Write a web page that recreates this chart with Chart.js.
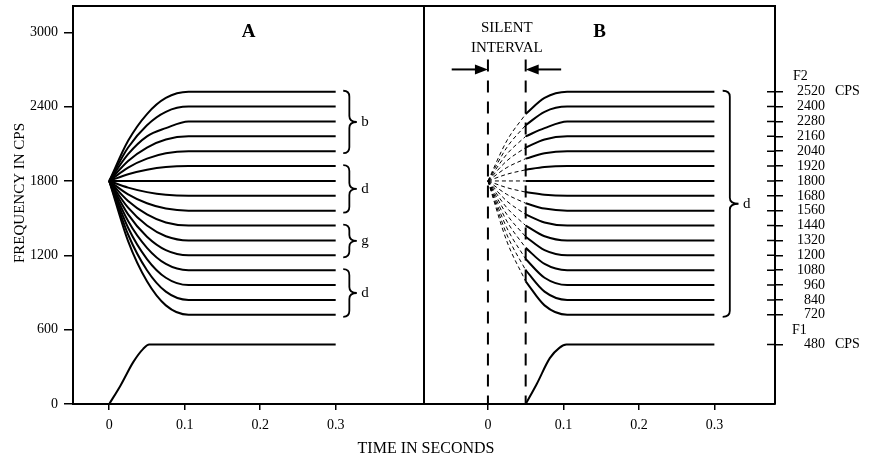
<!DOCTYPE html>
<html>
<head>
<meta charset="utf-8">
<script src="https://cdn.jsdelivr.net/npm/chart.js@4/dist/chart.umd.min.js"></script>
<style>
  html, body { margin: 0; padding: 0; background: #fff; }
  canvas { display: block; }
</style>
</head>
<body>
<canvas id="c" width="870" height="461"></canvas>
<script>
// ---------- data ----------
const timeTickValues = [0, 0.1, 0.2, 0.3];
const timeTickLabels = ['0', '0.1', '0.2', '0.3'];
const freqTickValues = [0, 600, 1200, 1800, 2400, 3000];
const freqTickLabels = ['0', '600', '1200', '1800', '2400', '3000'];

const f2StartHz = 1800;
const f2Targets = [2520, 2400, 2280, 2160, 2040, 1920, 1800, 1680, 1560, 1440, 1320, 1200, 1080, 960, 840, 720];
const f2At025 = [2124, 2070, 2016, 1962, 1908, 1854, 1800, 1746, 1692, 1638, 1584, 1530, 1476, 1422, 1368, 1314];
const f2At050 = [2340, 2250, 2160, 2070, 1980, 1890, 1800, 1710, 1620, 1530, 1440, 1350, 1260, 1170, 1080, 990];
const f2At075 = [2470, 2358, 2226, 2135, 2023, 1912, 1800, 1688, 1577, 1465, 1354, 1242, 1130, 1019, 907, 796];
const f2Times = [0, 0.025, 0.05, 0.075, 0.105, 0.3];

const f1TimesA = [0, 0.015, 0.032, 0.045, 0.053, 0.3];
const f1ValuesA = [0, 150, 340, 445, 480, 480];
const f1TimesB = [0.05, 0.0645, 0.082, 0.095, 0.104, 0.3];
const f1ValuesB = [0, 160, 370, 455, 480, 480];

const silentStart = 0;
const silentEnd = 0.05;
const silentTopHz = 2780;

const rightTickValues = [2520, 2400, 2280, 2160, 2040, 1920, 1800, 1680, 1560, 1440, 1320, 1200, 1080, 960, 840, 720, 480];
const rightTickLabels = ['2520', '2400', '2280', '2160', '2040', '1920', '1800', '1680', '1560', '1440', '1320', '1200', '1080', '960', '840', '720', '480'];

const braceTopsA = [2520, 1920, 1440, 1080];
const braceBottomsA = [2040, 1560, 1200, 720];
const braceLabelsA = ['b', 'd', 'g', 'd'];
const braceTopsB = [2520];
const braceBottomsB = [720];
const braceLabelsB = ['d'];

// ---------- datasets ----------
const FONT = "'Liberation Serif', 'DejaVu Serif', serif";
const datasets = [];
function pts(times, vals) { return times.map((t, i) => ({ x: t, y: vals[i] })); }

f2Targets.forEach((target, i) => {
  const vals = [f2StartHz, f2At025[i], f2At050[i], f2At075[i], target, target];
  datasets.push({ xAxisID: 'xA', yAxisID: 'y', data: pts(f2Times, vals),
    borderColor: '#000', borderWidth: 2, pointRadius: 0, cubicInterpolationMode: 'monotone' });
  datasets.push({ xAxisID: 'xB', yAxisID: 'y', data: pts(f2Times.slice(0, 3), vals.slice(0, 3)),
    borderColor: '#000', borderWidth: 1, borderDash: [4, 3], pointRadius: 0, cubicInterpolationMode: 'monotone' });
  datasets.push({ xAxisID: 'xB', yAxisID: 'y', data: pts(f2Times.slice(2), vals.slice(2)),
    borderColor: '#000', borderWidth: 2, pointRadius: 0, cubicInterpolationMode: 'monotone' });
});
datasets.push({ xAxisID: 'xA', yAxisID: 'y', data: pts(f1TimesA, f1ValuesA),
  borderColor: '#000', borderWidth: 2, pointRadius: 0, cubicInterpolationMode: 'monotone' });
datasets.push({ xAxisID: 'xB', yAxisID: 'y', data: pts(f1TimesB, f1ValuesB),
  borderColor: '#000', borderWidth: 2, pointRadius: 0, cubicInterpolationMode: 'monotone' });
[silentStart, silentEnd].forEach(t => {
  datasets.push({ xAxisID: 'xB', yAxisID: 'y', data: [{ x: t, y: silentTopHz }, { x: t, y: 0 }],
    borderColor: '#000', borderWidth: 2, borderDash: [12, 9], pointRadius: 0 });
});

// ---------- annotations plugin ----------
function drawBrace(ctx, xEnd, xTip, yTop, yBot) {
  const xm = xEnd + (xTip - xEnd) * 0.45;
  const ym = (yTop + yBot) / 2;
  const r = Math.min(6, (yBot - yTop) / 4);
  ctx.beginPath();
  ctx.moveTo(xEnd, yTop);
  ctx.quadraticCurveTo(xm, yTop, xm, yTop + r);
  ctx.lineTo(xm, ym - r);
  ctx.quadraticCurveTo(xm, ym, xTip, ym);
  ctx.quadraticCurveTo(xm, ym, xm, ym + r);
  ctx.lineTo(xm, yBot - r);
  ctx.quadraticCurveTo(xm, yBot, xEnd, yBot);
  ctx.stroke();
}
function drawArrow(ctx, x0, xTip, y) {
  const dir = Math.sign(xTip - x0);
  ctx.beginPath(); ctx.moveTo(x0, y); ctx.lineTo(xTip - dir * 6, y); ctx.stroke();
  ctx.beginPath(); ctx.moveTo(xTip, y); ctx.lineTo(xTip - dir * 13, y - 5); ctx.lineTo(xTip - dir * 13, y + 5); ctx.closePath(); ctx.fill();
}

const annot = {
  id: 'annot',
  afterDraw(chart) {
    const { ctx, chartArea: ca } = chart;
    const { xA, xB, y, yR } = chart.scales;
    ctx.save();
    ctx.strokeStyle = '#000'; ctx.fillStyle = '#000';
    ctx.lineWidth = 2;
    ctx.beginPath();
    ctx.moveTo(ca.left - 1, ca.top); ctx.lineTo(ca.right + 1, ca.top);
    ctx.moveTo(xA.right, ca.top); ctx.lineTo(xA.right, ca.bottom);
    ctx.stroke();
    ctx.lineWidth = 1.5;
    ctx.beginPath();
    rightTickValues.forEach(v => { const py = yR.getPixelForValue(v); ctx.moveTo(ca.right - 8, py); ctx.lineTo(ca.right, py); });
    ctx.stroke();
    ctx.font = '14px ' + FONT; ctx.textBaseline = 'middle'; ctx.textAlign = 'left';
    ctx.fillText('F2', yR.left + 18, yR.getPixelForValue(2520) - 15);
    ctx.fillText('F1', yR.left + 17, yR.getPixelForValue(480) - 14);
    ctx.fillText('CPS', yR.right + 10, yR.getPixelForValue(2520));
    ctx.fillText('CPS', yR.right + 10, yR.getPixelForValue(480));
    ctx.font = 'bold 19px ' + FONT; ctx.textAlign = 'center';
    ctx.fillText('A', (xA.left + xA.right) / 2, y.getPixelForValue(3000));
    ctx.fillText('B', (xB.left + xB.right) / 2, y.getPixelForValue(3000));
    ctx.lineWidth = 1.8;
    ctx.font = '15px ' + FONT; ctx.textAlign = 'left';
    braceTopsA.forEach((top, i) => {
      const yt = y.getPixelForValue(top) - 1, yb = y.getPixelForValue(braceBottomsA[i]) + 2;
      drawBrace(ctx, xA.getPixelForValue(0.31), xA.getPixelForValue(0.328), yt, yb);
      ctx.fillText(braceLabelsA[i], xA.getPixelForValue(0.334), (yt + yb) / 2);
    });
    braceTopsB.forEach((top, i) => {
      const yt = y.getPixelForValue(top) - 1, yb = y.getPixelForValue(braceBottomsB[i]) + 2;
      drawBrace(ctx, xB.getPixelForValue(0.311), xB.getPixelForValue(0.332), yt, yb);
      ctx.fillText(braceLabelsB[i], xB.getPixelForValue(0.338), (yt + yb) / 2);
    });
    ctx.font = '15px ' + FONT; ctx.textAlign = 'center';
    const xMid = xB.getPixelForValue((silentStart + silentEnd) / 2);
    ctx.fillText('SILENT', xMid, y.getPixelForValue(3035));
    ctx.fillText('INTERVAL', xMid, y.getPixelForValue(2873));
    ctx.lineWidth = 2;
    const ya = y.getPixelForValue(2700);
    drawArrow(ctx, xB.getPixelForValue(silentStart - 0.048), xB.getPixelForValue(silentStart), ya);
    drawArrow(ctx, xB.getPixelForValue(silentEnd + 0.047), xB.getPixelForValue(silentEnd), ya);
    ctx.font = '16px ' + FONT; ctx.textAlign = 'center';
    ctx.fillText('TIME IN SECONDS', (ca.left + ca.right) / 2 + 2, 449);
    ctx.save();
    ctx.translate(20, (ca.top + ca.bottom) / 2 - 12);
    ctx.rotate(-Math.PI / 2);
    ctx.font = '15px ' + FONT;
    ctx.fillText('FREQUENCY IN CPS', 0, 0);
    ctx.restore();
    ctx.restore();
  }
};

// ---------- chart ----------
const tickFont = { family: FONT, size: 14 };
function noPad(s) { s.paddingTop = 0; s.paddingBottom = 0; s.paddingLeft = 0; s.paddingRight = 0; }
function xAxis(min, max) {
  return {
    type: 'linear', position: 'bottom', stack: 'time', stackWeight: 1, min, max,
    afterBuildTicks: s => { s.ticks = timeTickValues.map(v => ({ value: v })); },
    afterFit: s => { s.height = 57; noPad(s); },
    ticks: { callback: (v, i) => timeTickLabels[i], font: tickFont, color: '#000', padding: 7, maxRotation: 0, autoSkip: false },
    grid: { drawOnChartArea: false, drawTicks: true, tickLength: 6, color: '#000', lineWidth: 1.5 },
    border: { display: true, color: '#000', width: 2 }
  };
}

new Chart(document.getElementById('c'), {
  type: 'line',
  data: { datasets },
  options: {
    responsive: false,
    animation: false,
    layout: { padding: { top: 6, right: 45, bottom: 0, left: 0 } },
    plugins: { legend: { display: false }, tooltip: { enabled: false }, title: { display: false } },
    elements: { line: { fill: false } },
    scales: {
      xA: xAxis(-0.048, 0.417),
      xB: xAxis(-0.0847, 0.3803),
      y: {
        type: 'linear', position: 'left', min: 0, max: 3212,
        afterBuildTicks: s => { s.ticks = freqTickValues.map(v => ({ value: v })); },
        afterFit: s => { s.width = 73; noPad(s); },
        ticks: { callback: (v, i) => freqTickLabels[i], font: tickFont, color: '#000', padding: 6 },
        grid: { drawOnChartArea: false, drawTicks: true, tickLength: 9, color: '#000', lineWidth: 1.5 },
        border: { display: true, color: '#000', width: 2 }
      },
      yR: {
        type: 'linear', position: 'right', min: 0, max: 3212,
        afterBuildTicks: s => { s.ticks = rightTickValues.map(v => ({ value: v })); },
        afterFit: s => { s.width = 50; noPad(s); },
        ticks: { callback: (v, i) => rightTickLabels[i], font: tickFont, color: '#000', padding: 13, crossAlign: 'far', autoSkip: false },
        grid: { drawOnChartArea: false, drawTicks: true, tickLength: 8, color: '#000', lineWidth: 1.5 },
        border: { display: true, color: '#000', width: 2 }
      }
    }
  },
  plugins: [annot]
});
</script>
</body>
</html>
